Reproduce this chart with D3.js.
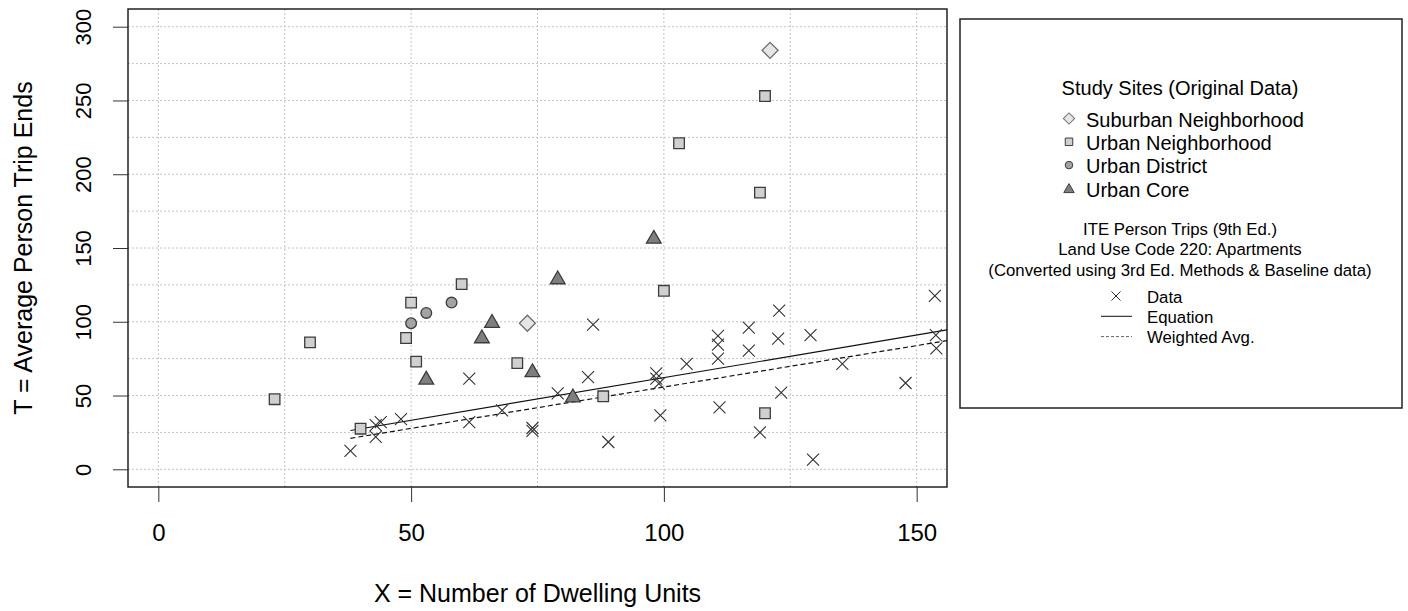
<!DOCTYPE html>
<html>
<head>
<meta charset="utf-8">
<script src="https://cdn.jsdelivr.net/npm/d3@7"></script>
<style>
  html, body { margin: 0; padding: 0; background: #fff; }
  svg { display: block; font-family: "Liberation Sans", Arial, sans-serif; }
</style>
</head>
<body>
<script>
// Study sites (original data)
const suburbanX = [121, 73];
const suburbanY = [284, 99];

const urbanNbhdX = [120, 103, 119, 60, 50, 30, 49, 51, 71, 23, 40, 100, 88, 120];
const urbanNbhdY = [253, 221, 187.5, 125.5, 113, 86, 89, 73, 72, 47.5, 27.5, 121, 49.5, 38];

const districtX = [50, 53, 58];
const districtY = [99, 106, 113];

const coreX = [98, 66, 64, 74, 53, 79, 82];
const coreY = [157.5, 100.5, 90, 67, 62, 130, 50];

// ITE person trips data points
const dataX = [38, 43, 43, 44, 48, 61.5, 61.5, 68, 74, 74, 86, 85, 79, 89, 98.5, 98.5, 99, 99.3,
               104.5, 110.7, 110.7, 110.7, 111, 116.8, 116.8, 122.8, 122.6, 123.2, 119, 129, 129.5,
               135.3, 147.8, 153.6, 153.8, 153.9];
const dataY = [12.5, 22, 30, 32, 34, 32, 61.5, 40, 28, 26, 98, 62.5, 51.5, 18.5, 65, 61.5, 58, 36.5,
               71.5, 90.5, 84.5, 75, 42, 96, 80.5, 107.5, 88.5, 52, 25, 91, 6.5,
               71.5, 58.5, 117.5, 91, 82];

// fitted lines (end points)
const equationX = [38, 156];
const equationY = [26.3, 94.5];
const weightedX = [38, 156];
const weightedY = [21, 87.2];

const xTicks = [0, 50, 100, 150];
const yTicks = [0, 50, 100, 150, 200, 250, 300];
const gridStep = 25;

const siteLabels = ["Suburban Neighborhood", "Urban Neighborhood", "Urban District", "Urban Core"];
const noteLines = ["ITE Person Trips (9th Ed.)", "Land Use Code 220: Apartments",
                   "(Converted using 3rd Ed. Methods & Baseline data)"];
const lineLabels = ["Data", "Equation", "Weighted Avg."];

const W = 1408, H = 611;
const plot = { left: 128, right: 947, top: 9, bottom: 487 };

const svg = d3.select("body").append("svg")
    .attr("width", W)
    .attr("height", H);

const x = d3.scaleLinear().domain([-6, 156]).range([plot.left, plot.right]);
const y = d3.scaleLinear().domain([-12, 312]).range([plot.bottom, plot.top]);

// grid
const grid = svg.append("g")
    .attr("stroke", "#c4c4c4")
    .attr("stroke-width", 1)
    .attr("stroke-dasharray", "2,2");

grid.selectAll(".gx")
    .data(d3.range(0, 151, gridStep))
    .enter().append("line")
    .attr("x1", d => x(d)).attr("x2", d => x(d))
    .attr("y1", plot.top).attr("y2", plot.bottom);

grid.selectAll(".gy")
    .data(d3.range(0, 301, gridStep))
    .enter().append("line")
    .attr("x1", plot.left).attr("x2", plot.right)
    .attr("y1", d => y(d)).attr("y2", d => y(d));

// axes
const xAxis = svg.append("g")
    .attr("transform", "translate(0," + plot.bottom + ")")
    .call(d3.axisBottom(x).tickValues(xTicks).tickSize(15).tickPadding(22));
xAxis.select(".domain").remove();
xAxis.selectAll("text").attr("font-size", 24).attr("fill", "#000")
    .style("font-family", "Liberation Sans, Arial, sans-serif");
xAxis.selectAll("line").attr("stroke", "#333");

const yAxis = svg.append("g")
    .attr("transform", "translate(" + plot.left + ",0)")
    .call(d3.axisLeft(y).tickValues(yTicks).tickSize(15).tickFormat(""));
yAxis.select(".domain").remove();
yAxis.selectAll("line").attr("stroke", "#333");
yAxis.selectAll(".tick").append("text")
    .attr("transform", "translate(-37,0) rotate(-90)")
    .attr("text-anchor", "middle")
    .attr("font-size", 22)
    .attr("fill", "#000")
    .text(d => d);

// box
svg.append("rect")
    .attr("x", plot.left).attr("y", plot.top)
    .attr("width", plot.right - plot.left)
    .attr("height", plot.bottom - plot.top)
    .attr("fill", "none")
    .attr("stroke", "#222")
    .attr("stroke-width", 1.5);

// axis titles
svg.append("text")
    .attr("x", (plot.left + plot.right) / 2)
    .attr("y", 602)
    .attr("text-anchor", "middle")
    .attr("font-size", 25)
    .text("X = Number of Dwelling Units");

svg.append("text")
    .attr("transform", "translate(32," + (plot.top + plot.bottom) / 2 + ") rotate(-90)")
    .attr("text-anchor", "middle")
    .attr("font-size", 25)
    .text("T = Average Person Trip Ends");

const body = svg.append("g");

// fitted lines
const line = d3.line().x(d => x(d[0])).y(d => y(d[1]));
body.append("path")
    .datum(d3.zip(equationX, equationY))
    .attr("d", line)
    .attr("fill", "none")
    .attr("stroke", "#111")
    .attr("stroke-width", 1.2);
body.append("path")
    .datum(d3.zip(weightedX, weightedY))
    .attr("d", line)
    .attr("fill", "none")
    .attr("stroke", "#111")
    .attr("stroke-width", 1.2)
    .attr("stroke-dasharray", "5,3");

// cross markers
function crossPath(r) {
    return "M" + (-r) + "," + (-r) + "L" + r + "," + r + "M" + (-r) + "," + r + "L" + r + "," + (-r);
}
body.selectAll(".cross")
    .data(d3.zip(dataX, dataY))
    .enter().append("path")
    .attr("class", "cross")
    .attr("transform", d => "translate(" + x(d[0]) + "," + y(d[1]) + ")")
    .attr("d", crossPath(6))
    .attr("stroke", "#333")
    .attr("stroke-width", 1.1)
    .attr("fill", "none");

// site markers
const styles = [
    { sym: d3.symbolSquare, size: 128, rot: 45, fill: "#e6e6e6", stroke: "#6e6e6e", dy: 0 },
    { sym: d3.symbolSquare, size: 112, rot: 0, fill: "#d0d0d0", stroke: "#3c3c3c", dy: 0 },
    { sym: d3.symbolCircle, size: 90, rot: 0, fill: "#a3a3a3", stroke: "#3c3c3c", dy: 0 },
    { sym: d3.symbolTriangle, size: 94, rot: 0, fill: "#7f7f7f", stroke: "#3c3c3c", dy: 2 }
];
const sites = [
    d3.zip(suburbanX, suburbanY),
    d3.zip(urbanNbhdX, urbanNbhdY),
    d3.zip(districtX, districtY),
    d3.zip(coreX, coreY)
];

sites.forEach(function(pts, i) {
    const s = styles[i];
    body.selectAll(".site" + i)
        .data(pts)
        .enter().append("path")
        .attr("class", "site" + i)
        .attr("transform", d => "translate(" + x(d[0]) + "," + (y(d[1]) + s.dy) + ") rotate(" + s.rot + ")")
        .attr("d", d3.symbol().type(s.sym).size(s.size))
        .attr("fill", s.fill)
        .attr("stroke", s.stroke)
        .attr("stroke-width", 1.3);
});

// legend
const lg = svg.append("g");
lg.append("rect")
    .attr("x", 960).attr("y", 19)
    .attr("width", 442).attr("height", 389)
    .attr("fill", "#fff")
    .attr("stroke", "#222")
    .attr("stroke-width", 1.5);

lg.append("text")
    .attr("x", 1180).attr("y", 95)
    .attr("text-anchor", "middle")
    .attr("font-size", 20)
    .text("Study Sites (Original Data)");

siteLabels.forEach(function(label, i) {
    const cy = 118.5 + i * 23.3;
    const s = styles[i];
    lg.append("path")
        .attr("transform", "translate(1069," + (cy + s.dy * 0.6) + ") rotate(" + s.rot + ")")
        .attr("d", d3.symbol().type(s.sym).size(s.size * 0.5))
        .attr("fill", s.fill)
        .attr("stroke", s.stroke)
        .attr("stroke-width", 1);
    lg.append("text")
        .attr("x", 1086).attr("y", cy + 8.3)
        .attr("font-size", 20)
        .text(label);
});

noteLines.forEach(function(t, i) {
    lg.append("text")
        .attr("x", 1180).attr("y", 235 + i * 20.3)
        .attr("text-anchor", "middle")
        .attr("font-size", 16.8)
        .text(t);
});

lineLabels.forEach(function(t, i) {
    const cy = 296 + i * 20.3;
    if (i === 0) {
        lg.append("path")
            .attr("transform", "translate(1116," + cy + ")")
            .attr("d", crossPath(4.5))
            .attr("stroke", "#333").attr("stroke-width", 1).attr("fill", "none");
    } else {
        lg.append("line")
            .attr("x1", 1101).attr("x2", 1132)
            .attr("y1", cy).attr("y2", cy)
            .attr("stroke", i === 1 ? "#111" : "#666")
            .attr("stroke-width", 1)
            .attr("stroke-dasharray", i === 2 ? "3,2" : null);
    }
    lg.append("text")
        .attr("x", 1147).attr("y", cy + 6.5)
        .attr("font-size", 16.8)
        .text(t);
});
</script>
</body>
</html>
